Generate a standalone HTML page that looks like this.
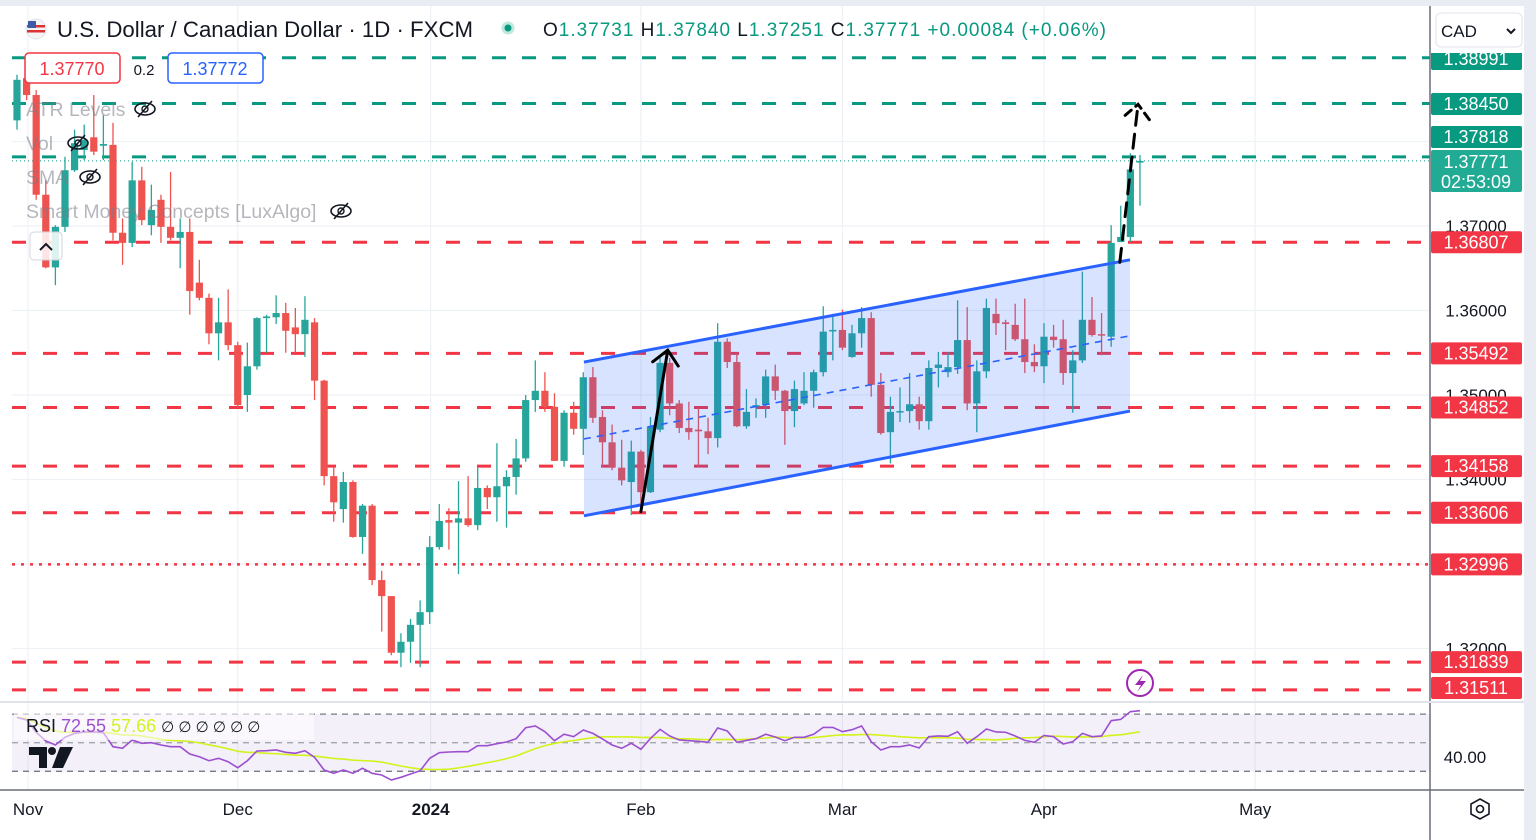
<!DOCTYPE html>
<html><head><meta charset="utf-8"><title>USDCAD chart</title>
<style>
html,body{margin:0;padding:0;background:#fff;}
svg{display:block;font-family:"Liberation Sans",sans-serif;}
</style></head>
<body>
<svg id="chart" width="1536" height="840" viewBox="0 0 1536 840" xmlns="http://www.w3.org/2000/svg">
  <rect x="0" y="0" width="1536" height="840" fill="#ffffff"/>
  <rect x="0" y="0" width="1536" height="6" fill="#e9ecf2"/>
  <rect x="1524" y="0" width="12" height="840" fill="#e9ecf2"/>
  <g id="grid"></g>
  <g id="levels"></g>
  <g id="candles"></g>
  <g id="channel"></g>
  <g id="drawings"></g>
  <g id="rsi"></g>
  <g id="axis"></g>
  <g id="time"></g>

  <!-- header -->
  <g>
    <g>
      <circle cx="36" cy="29" r="10" fill="#f4f4f4" stroke="#e0e3eb"/>
      <rect x="27" y="25" width="18" height="2.5" fill="#d33"/>
      <rect x="27" y="30" width="18" height="2.5" fill="#d33"/>
      <rect x="28" y="21" width="8" height="7" fill="#3c5aa6"/>
    </g>
    <text x="57" y="37" font-size="22" fill="#131722" textLength="416" lengthAdjust="spacingAndGlyphs">U.S. Dollar / Canadian Dollar · 1D · FXCM</text>
    <circle cx="508" cy="28" r="5" fill="#089981" stroke="#bfe8df" stroke-width="3"/>
    <text x="543" y="36" font-size="19" fill="#089981" textLength="563" lengthAdjust="spacing"><tspan fill="#131722">O</tspan>1.37731 <tspan fill="#131722">H</tspan>1.37840 <tspan fill="#131722">L</tspan>1.37251 <tspan fill="#131722">C</tspan>1.37771 +0.00084 (+0.06%)</text>
  </g>
  <g>
    <rect x="25" y="53" width="95" height="30" rx="4" fill="#fff" stroke="#f23645" stroke-width="1.5"/>
    <text x="72" y="75" font-size="18" fill="#f23645" text-anchor="middle">1.37770</text>
    <text x="144" y="75" font-size="15" fill="#131722" text-anchor="middle">0.2</text>
    <rect x="168" y="53" width="95" height="30" rx="4" fill="#fff" stroke="#2962ff" stroke-width="1.5"/>
    <text x="215" y="75" font-size="18" fill="#2962ff" text-anchor="middle">1.37772</text>
  </g>
  <g id="legend"></g>
  <g>
    <rect x="30" y="232" width="32" height="28" rx="4" fill="rgba(255,255,255,0.85)" stroke="#d1d4dc"/>
    <path d="M40 250 L46 244 L52 250" fill="none" stroke="#131722" stroke-width="2"/>
  </g>
  <g>
    <circle cx="1140" cy="683" r="13" fill="#fff" stroke="#9c27b0" stroke-width="2"/>
    <path d="M1143 675 L1135 685 L1141 685 L1137 692 L1146 681 L1140 681 Z" fill="#9c27b0"/>
  </g>
  <g>
    <rect x="1431" y="6" width="93" height="47" fill="#fff"/>
    <rect x="1436" y="13" width="86" height="34" rx="5" fill="#fff" stroke="#e0e3eb"/>
    <text x="1441" y="37" font-size="17" fill="#131722">CAD</text>
    <path d="M1507 29 L1511 33 L1515 29" fill="none" stroke="#131722" stroke-width="2"/>
  </g>
</svg>
<script>
// ---------- data ----------
const barOpen  = [1.3825,1.3875,1.3855,1.3737,1.3651,1.3699,1.3766,1.3790,1.3805,1.3795,1.3796,1.3692,1.3680,1.3754,1.3701,1.3731,1.3699,1.3686,1.3693,1.3633,1.3615,1.3573,1.3586,1.3559,1.3500,1.3534,1.3591,1.3592,1.3597,1.3580,1.3572,1.3586,1.3517,1.3404,1.3365,1.3397,1.3332,1.3369,1.3281,1.3262,1.3195,1.3208,1.3228,1.3243,1.3320,1.3352,1.3349,1.3354,1.3346,1.3390,1.3379,1.3392,1.3403,1.3425,1.3494,1.3505,1.3486,1.3422,1.3479,1.3460,1.3521,1.3474,1.3444,1.3414,1.3397,1.3433,1.3385,1.3459,1.3538,1.3490,1.3461,1.3459,1.3457,1.3449,1.3563,1.3539,1.3463,1.3486,1.3488,1.3522,1.3505,1.3481,1.3490,1.3505,1.3527,1.3576,1.3577,1.3545,1.3573,1.3591,1.3512,1.3456,1.3480,1.3481,1.3489,1.3469,1.3532,1.3527,1.3533,1.3565,1.3490,1.3528,1.3596,1.3586,1.3583,1.3566,1.3539,1.3534,1.3569,1.3566,1.3526,1.3541,1.3589,1.3572,1.3569,1.3681,1.3687,1.3775];
const barHigh  = [1.3879,1.3896,1.3861,1.3754,1.3701,1.3782,1.3814,1.3820,1.3855,1.3831,1.3822,1.3709,1.3776,1.3770,1.3749,1.3737,1.3764,1.3709,1.3709,1.3660,1.3620,1.3615,1.3625,1.3563,1.3562,1.3592,1.3595,1.3618,1.3609,1.3603,1.3617,1.3591,1.3518,1.3415,1.3409,1.3399,1.3371,1.3371,1.3292,1.3262,1.3218,1.3235,1.3257,1.3333,1.3371,1.3366,1.3398,1.3404,1.3414,1.3393,1.3443,1.3411,1.3448,1.3500,1.3541,1.3527,1.3502,1.3482,1.3492,1.3527,1.3533,1.3482,1.3465,1.3447,1.3446,1.3435,1.3474,1.3544,1.3544,1.3494,1.3492,1.3485,1.3473,1.3585,1.3567,1.3550,1.3507,1.3496,1.3530,1.3536,1.3506,1.3517,1.3527,1.3530,1.3605,1.3596,1.3601,1.3583,1.3604,1.3598,1.3526,1.3498,1.3509,1.3526,1.3498,1.3541,1.3551,1.3551,1.3612,1.3604,1.3541,1.3614,1.3614,1.3589,1.3608,1.3614,1.3560,1.3585,1.3583,1.3589,1.3553,1.3646,1.3616,1.3597,1.3701,1.3724,1.3786,1.3784];
const barLow   = [1.3814,1.3849,1.3731,1.3650,1.3630,1.3693,1.3764,1.3778,1.3784,1.3778,1.3683,1.3654,1.3675,1.3701,1.3689,1.3680,1.3683,1.3650,1.3595,1.3612,1.3560,1.3541,1.3553,1.3485,1.3480,1.3530,1.3550,1.3584,1.3550,1.3550,1.3545,1.3494,1.3393,1.3350,1.3349,1.3331,1.3312,1.3275,1.3220,1.3192,1.3178,1.3183,1.3178,1.3229,1.3317,1.3317,1.3288,1.3344,1.3340,1.3365,1.3350,1.3343,1.3382,1.3421,1.3480,1.3480,1.3422,1.3415,1.3453,1.3429,1.3467,1.3414,1.3411,1.3393,1.3358,1.3372,1.3384,1.3456,1.3476,1.3455,1.3447,1.3414,1.3430,1.3438,1.3532,1.3462,1.3460,1.3473,1.3473,1.3494,1.3441,1.3462,1.3488,1.3485,1.3522,1.3541,1.3553,1.3544,1.3556,1.3498,1.3453,1.3419,1.3468,1.3467,1.3459,1.3459,1.3509,1.3521,1.3525,1.3482,1.3456,1.3520,1.3571,1.3553,1.3564,1.3526,1.3527,1.3514,1.3556,1.3512,1.3479,1.3538,1.3569,1.3547,1.3557,1.3681,1.3681,1.3724];
const barClose = [1.3873,1.3855,1.3737,1.3651,1.3699,1.3766,1.3798,1.3802,1.3788,1.3797,1.3692,1.3680,1.3754,1.3707,1.3719,1.3699,1.3686,1.3693,1.3623,1.3615,1.3573,1.3586,1.3559,1.3488,1.3534,1.3591,1.3593,1.3597,1.3576,1.3572,1.3589,1.3517,1.3404,1.3373,1.3397,1.3332,1.3369,1.3281,1.3262,1.3195,1.3208,1.3228,1.3243,1.3320,1.3351,1.3349,1.3354,1.3346,1.3390,1.3379,1.3392,1.3403,1.3425,1.3494,1.3505,1.3486,1.3422,1.3479,1.3460,1.3521,1.3473,1.3444,1.3414,1.3399,1.3433,1.3385,1.3463,1.3538,1.3490,1.3461,1.3456,1.3457,1.3449,1.3563,1.3539,1.3463,1.3480,1.3488,1.3522,1.3505,1.3481,1.3507,1.3505,1.3527,1.3575,1.3577,1.3556,1.3573,1.3591,1.3512,1.3455,1.3480,1.3481,1.3489,1.3469,1.3532,1.3536,1.3533,1.3565,1.3490,1.3528,1.3603,1.3585,1.3584,1.3566,1.3539,1.3534,1.3569,1.3565,1.3526,1.3541,1.3589,1.3571,1.3571,1.3680,1.3687,1.3767,1.3777];
const rsiValues = [67.7,65.9,57.3,51.2,48.4,53.8,56.5,57.5,57.5,57.0,47.2,46.1,51.9,49.6,50.0,48.4,47.2,47.2,42.1,40.2,37.4,39.1,36.7,32.5,37.4,44.2,44.4,44.9,43.3,42.6,44.4,39.8,30.9,28.6,30.9,28.6,32.1,28.6,27.4,23.9,25.8,28.1,30.4,39.1,43.0,43.5,43.7,43.7,47.9,47.9,49.3,50.5,52.8,60.5,61.7,57.7,51.4,55.9,54.2,58.9,
 56.5,52.6,48.4,46.1,49.6,45.4,53.0,59.3,54.7,51.9,51.4,51.0,50.3,60.3,58.2,50.3,51.6,52.8,55.9,54.0,51.4,53.8,53.8,55.9,60.7,60.7,57.7,59.1,61.7,50.7,44.9,47.2,47.2,48.4,46.3,54.2,54.7,54.5,57.7,49.6,54.2,59.6,57.5,57.3,54.7,51.6,50.3,55.1,54.2,49.1,50.7,56.5,54.2,54.7,65.4,66.3,71.7,72.4];
const priceTicks = [1.38, 1.37, 1.36, 1.35, 1.34, 1.33, 1.32];
const priceTickLabels = ["", "1.37000", "1.36000", "1.35000", "1.34000", "", "1.32000"];
const timeLabels = ["Nov", "Dec", "2024", "Feb", "Mar", "Apr", "May"];
const timeBarIndex = [1.15, 23.0, 43.1, 65.0, 86.0, 107.0, 129.0];
const greenLevels = [1.38991, 1.38450, 1.37818];
const redLevels = [1.36807, 1.35492, 1.34852, 1.34158, 1.33606, 1.31839, 1.31511];
const dottedRedLevel = [1.32996];
const lastPrice = [1.37771];
const channelBars = [59.07, 115.96];
const channelTop = [1.3539, 1.3660];
const channelBottom = [1.3357, 1.3481];
const channelMid = [1.3448, 1.3570];
const arrowUp = [[65.0, 1.3362], [67.8, 1.3553]];
const arrowProjection = [[114.9, 1.3657], [116.8, 1.3844]];

// ---------- scales ----------
const NS = "http://www.w3.org/2000/svg";
const X0 = 17, STEP = 9.598;
function xOf(i){ return X0 + i*STEP; }
function yOf(p){ return 226 + (1.37 - p)*8450; }
function yRsi(v){ return 742.7 - (v-50)*1.43; }
function mk(tag, attrs, parent){
  const e = document.createElementNS(NS, tag);
  for (const k in attrs) e.setAttribute(k, attrs[k]);
  parent.appendChild(e); return e;
}
const PANE_R = 1430;

// grid
const grid = document.getElementById('grid');
priceTicks.forEach(p=>{
  const l = mk('line',{x1:12,x2:PANE_R,y1:yOf(p),y2:yOf(p),stroke:'#eef1f6','stroke-width':1.2},grid);
  
  
});
timeBarIndex.forEach(b=>{
  const l = mk('line',{x1:xOf(b),x2:xOf(b),y1:6,y2:790,stroke:'#eef1f6','stroke-width':1.2},grid);
  
  
});

// levels
const lv = document.getElementById('levels');
greenLevels.forEach(p=>{
  const l = mk('line',{x1:12,x2:PANE_R,y1:yOf(p),y2:yOf(p),stroke:'#089981','stroke-width':3,'stroke-dasharray':'14 16'},lv);
  
  
});
redLevels.forEach(p=>{
  const l = mk('line',{x1:12,x2:PANE_R,y1:yOf(p),y2:yOf(p),stroke:'#f23645','stroke-width':3,'stroke-dasharray':'14 17'},lv);
  
  
});
dottedRedLevel.forEach(p=>{
  const l = mk('line',{x1:12,x2:PANE_R,y1:yOf(p),y2:yOf(p),stroke:'#f23645','stroke-width':2.5,'stroke-dasharray':'3 6'},lv);
  
  
});
lastPrice.forEach(p=>{
  const l = mk('line',{x1:12,x2:PANE_R,y1:yOf(p),y2:yOf(p),stroke:'#089981','stroke-width':1,'stroke-dasharray':'1 3'},lv);
  
  
});

// candles
const cg = document.getElementById('candles');
barClose.forEach((c,i)=>{
  const o = barOpen[i], h = barHigh[i], lo = barLow[i];
  const up = c >= o;
  const col = up ? '#26a69a' : '#ef5350';
  const x = xOf(i);
  const w = mk('line',{x1:x,x2:x,y1:yOf(h),y2:yOf(lo),stroke:col,'stroke-width':1.3},cg);
  
  
  const top = yOf(Math.max(o,c)), bot = yOf(Math.min(o,c));
  const b = mk('rect',{x:x-3.6,y:top,width:7.2,height:Math.max(1.5,bot-top),fill:col},cg);
  
  
});

// channel
const ch = document.getElementById('channel');
const cx1 = xOf(channelBars[0]), cx2 = xOf(channelBars[1]);
const poly = mk('polygon',{points:`${cx1},${yOf(channelTop[0])} ${cx2},${yOf(channelTop[1])} ${cx2},${yOf(channelBottom[1])} ${cx1},${yOf(channelBottom[0])}`,fill:'rgba(41,98,255,0.18)'},ch);


const lt = mk('line',{x1:cx1,y1:yOf(channelTop[0]),x2:cx2,y2:yOf(channelTop[1]),stroke:'#2962ff','stroke-width':3},ch);


const lb = mk('line',{x1:cx1,y1:yOf(channelBottom[0]),x2:cx2,y2:yOf(channelBottom[1]),stroke:'#2962ff','stroke-width':3},ch);


const lm = mk('line',{x1:cx1,y1:yOf(channelMid[0]),x2:cx2,y2:yOf(channelMid[1]),stroke:'#2962ff','stroke-width':1.6,'stroke-dasharray':'7 6'},ch);



// arrows
const dr = document.getElementById('drawings');
function arrow(pts, dashed, name){
  const ax1 = xOf(pts[0][0]), ay1 = yOf(pts[0][1]), ax2 = xOf(pts[1][0]), ay2 = yOf(pts[1][1]);
  const g = mk('g',{},dr);
  
  
  const attrs = {x1:ax1,y1:ay1,x2:ax2,y2:ay2,stroke:'#000','stroke-width':3,'stroke-linecap':'round'};
  if (dashed) attrs['stroke-dasharray'] = '14 9';
  mk('line',attrs,g);
  const ang = Math.atan2(ay2-ay1, ax2-ax1);
  const hl = 19, sp = 0.75;
  const hAttrs = {fill:'none',stroke:'#000','stroke-width':3,'stroke-linecap':'round',
    points:`${ax2-hl*Math.cos(ang-sp)},${ay2-hl*Math.sin(ang-sp)} ${ax2},${ay2} ${ax2-hl*Math.cos(ang+sp)},${ay2-hl*Math.sin(ang+sp)}`};
  if (dashed) hAttrs['stroke-dasharray'] = '8 6';
  mk('polyline',hAttrs,g);
}
arrow(arrowUp,false,'impulse-arrow');
arrow(arrowProjection,true,'projection-arrow');

// RSI pane
const rg = document.getElementById('rsi');
const bg = mk('rect',{x:12,y:yRsi(70),width:PANE_R-12,height:yRsi(30)-yRsi(70),fill:'rgba(126,87,194,0.09)'},rg);


[70,50,30].forEach(v=>{
  const l = mk('line',{x1:12,x2:PANE_R,y1:yRsi(v),y2:yRsi(v),stroke:v===50?'#a3a6af':'#787b86','stroke-width':1.3,'stroke-dasharray':'6 5'},rg);
  
  
});
const rsiMa = rsiValues.map((v,i)=>{
  const s = rsiValues.slice(Math.max(0,i-13), i+1);
  return s.reduce((a,b)=>a+b,0)/s.length;
});
const maLine = mk('polyline',{fill:'none',stroke:'#d4f21c','stroke-width':1.6,points:rsiMa.map((v,i)=>`${xOf(i)},${yRsi(v)}`).join(' ')},rg);


const rsiLine = mk('polyline',{fill:'none',stroke:'#9c4fd0','stroke-width':1.6,points:rsiValues.map((v,i)=>`${xOf(i)},${yRsi(v)}`).join(' ')},rg);


const rl = mk('rect',{x:14,y:712,width:300,height:28,fill:'rgba(255,255,255,0.55)'},rg);


const rt = mk('text',{x:26,y:732,'font-size':18,fill:'#131722'},rg);


rt.innerHTML = 'RSI <tspan fill="#9c4fd0">72.55</tspan> <tspan fill="#d4f21c">57.66</tspan> <tspan font-size="15">∅ ∅ ∅ ∅ ∅ ∅</tspan>';
const logo = mk('g',{},rg);


mk('path',{d:'M29 747 H47 V768 H39 V755 H29 Z',fill:'#131722'},logo);
mk('circle',{cx:52,cy:751,r:4,fill:'#131722'},logo);
mk('path',{d:'M60 747 H73 L63 768 H52 Z',fill:'#131722'},logo);

// legend
const lg = document.getElementById('legend');
const legendRows = [['ATR Levels',109,145],['Vol',143,78],['SMA',177,90],['Smart Money Concepts [LuxAlgo]',211,341]];
legendRows.forEach(r=>{
  const t = mk('text',{x:26,y:r[1]+7,'font-size':19.5,fill:'rgba(120,123,134,0.55)'},lg);
  t.textContent = r[0];
  
  
  const ic = mk('g',{},lg);
  
  
  mk('ellipse',{cx:r[2],cy:r[1],rx:10,ry:6,fill:'none',stroke:'#131722','stroke-width':1.6},ic);
  mk('circle',{cx:r[2],cy:r[1],r:3,fill:'none',stroke:'#131722','stroke-width':1.4},ic);
  mk('line',{x1:r[2]-7,y1:r[1]+8,x2:r[2]+7,y2:r[1]-8,stroke:'#131722','stroke-width':1.6},ic);
});

// price axis
const ax = document.getElementById('axis');
const axLine = mk('line',{x1:PANE_R,x2:PANE_R,y1:6,y2:840,stroke:'#6a6d78','stroke-width':1.5},ax);


priceTicks.forEach((p,i)=>{
  if (!priceTickLabels[i]) return;
  const t = mk('text',{x:1476,y:yOf(p)+6,'font-size':17,fill:'#131722','text-anchor':'middle'},ax);
  t.textContent = priceTickLabels[i];
  
  
});
function tag(p, yc, h, col, name, label2){
  const g = mk('g',{},ax);
  
  
  mk('rect',{x:1431,y:yc-h/2,width:91,height:h,rx:2,fill:col},g);
  const t = mk('text',{x:1476,y:label2? yc-3 : yc+6,'font-size':18,fill:'#fff','text-anchor':'middle'},g);
  t.textContent = p.toFixed(5);
  if (label2){
    const t2 = mk('text',{x:1476,y:yc+17,'font-size':18,fill:'#fff','text-anchor':'middle'},g);
    t2.textContent = label2;
  }
}
const greenTagY = [59, 104, 137];
greenLevels.forEach((p,i)=> tag(p, greenTagY[i] ?? yOf(p), 22, '#089981', 'atr-level-price-tag'));
tag(lastPrice[0], 171, 42, '#22ab94', 'last-price-tag', '02:53:09');
redLevels.forEach(p=> tag(p, Math.min(yOf(p), 688), 22, '#f23645', 'level-price-tag'));
dottedRedLevel.forEach(p=> tag(p, yOf(p), 22, '#f23645', 'level-price-tag'));
const rsiLab = mk('text',{x:1465,y:763,'font-size':17,fill:'#131722','text-anchor':'middle'},ax);
rsiLab.textContent = '40.00';


const sep = mk('line',{x1:0,x2:1524,y1:702,y2:702,stroke:'#e0e3eb','stroke-width':2},ax);



// time axis
const tg = document.getElementById('time');
const tl = mk('line',{x1:0,x2:1524,y1:790,y2:790,stroke:'#6a6d78','stroke-width':1.5},tg);


timeLabels.forEach((s,i)=>{
  const t = mk('text',{x:xOf(timeBarIndex[i]),y:815,'font-size':17,fill:'#131722','text-anchor':'middle','font-weight':s==='2024'?'bold':'normal'},tg);
  t.textContent = s;
  
  
});
const gear = mk('g',{},tg);


mk('polygon',{points:'1480,799 1489,804 1489,814 1480,819 1471,814 1471,804',fill:'none',stroke:'#131722','stroke-width':1.6},gear);
mk('circle',{cx:1480,cy:809,r:3.5,fill:'none',stroke:'#131722','stroke-width':1.6},gear);
</script>
</body></html>
